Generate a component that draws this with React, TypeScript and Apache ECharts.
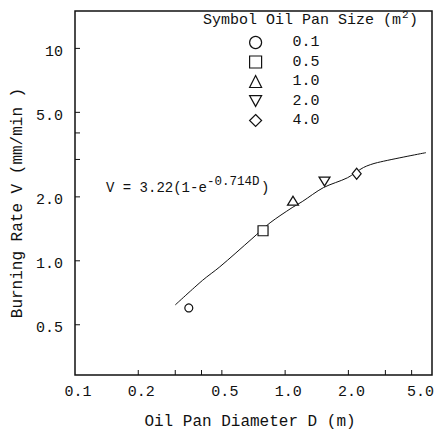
import React, { useEffect, useRef } from 'react';
import * as echarts from 'echarts';

// Oil pan sizes (m2) and measured points (diameter D in m, burning rate V in mm/min)
const panSizes = ['0.1', '0.5', '1.0', '2.0', '4.0'];
const panDiameters = [0.348, 0.785, 1.09, 1.54, 2.19];
const burningRates = [0.6, 1.385, 1.92, 2.36, 2.57];
const panSymbols = ['circle', 'rect', 'triangle', 'path://M0,0L10,0L5,9Z', 'diamond'];
const panSymbolSizes: (number | number[])[] = [8, 10, [11, 9], [11, 9], [9, 11]];

// Fitted curve
const curveD = [0.3, 0.405, 0.489, 0.695, 0.848, 1.08, 1.206, 1.52, 1.98, 2.36, 2.75, 4.68];
const curveV = [0.62, 0.81, 0.937, 1.27, 1.51, 1.78, 1.9, 2.21, 2.46, 2.75, 2.9, 3.23];

// Axes
const X_MIN = 0.1;
const X_MAX = 5;
const Y_MIN = 0.29;
const Y_MAX = 15;
const xTickValues = [0.2, 0.3, 0.4, 0.5, 1, 2, 3, 4];
const yTickValues = [0.5, 1, 2, 3, 4, 5, 10];
const xLabelValues = [0.1, 0.2, 0.5, 1, 2, 5];
const xLabels = ['0.1', '0.2', '0.5', '1.0', '2.0', '5.0'];
const yLabelValues = [0.5, 1, 2, 5, 10];
const yLabels = ['0.5', '1.0', '2.0', '5.0', '10'];

const FONT = "'Liberation Mono', 'DejaVu Sans Mono', monospace";
const INK = '#111';

export default function App() {
  const ref = useRef<HTMLDivElement>(null);

  useEffect(() => {
    if (!ref.current) return;
    const chart = echarts.init(ref.current, undefined, { renderer: 'svg' });

    const scatterSeries = panSizes.map((name, i) => ({
      name,
      type: 'scatter',
      z: 5,
      symbol: panSymbols[i],
      symbolSize: panSymbolSizes[i],
      itemStyle: { color: '#fff', borderColor: INK, borderWidth: 1.2, opacity: 1 },
      data: [[panDiameters[i], burningRates[i]]],
    }));

    const option: any = {
      animation: false,
      backgroundColor: '#fff',
      grid: {
        left: 75,
        right: 8,
        top: 11,
        bottom: 57,
        show: true,
        borderColor: INK,
        borderWidth: 1.5,
        backgroundColor: 'transparent',
      },
      xAxis: {
        type: 'log',
        logBase: 10,
        min: X_MIN,
        max: X_MAX,
        axisLine: { show: false },
        axisTick: { show: false },
        axisLabel: { show: false },
        splitLine: { show: false },
        minorTick: { show: false },
      },
      yAxis: {
        type: 'log',
        logBase: 10,
        min: Y_MIN,
        max: Y_MAX,
        axisLine: { show: false },
        axisTick: { show: false },
        axisLabel: { show: false },
        splitLine: { show: false },
        minorTick: { show: false },
      },
      legend: {
        orient: 'vertical',
        left: 249,
        top: 35,
        padding: 0,
        itemWidth: 12,
        itemHeight: 12,
        itemGap: 4.5,
        selectedMode: false,
        data: panSizes,
        itemStyle: { borderWidth: 1.2, borderColor: INK, color: '#fff' },
        formatter: '{a|{name}}',
        textStyle: {
          fontFamily: FONT,
          fontSize: 15,
          lineHeight: 12,
          color: INK,
          rich: { a: { fontFamily: FONT, fontSize: 15, lineHeight: 12, color: INK, padding: [0, 0, 0, 26] } },
        },
      },
      graphic: [
        {
          type: 'text',
          x: 18,
          y: 203,
          rotation: Math.PI / 2,
          style: { text: 'Burning Rate V (mm/min )', fontFamily: FONT, fontSize: 16, fill: INK, align: 'center', verticalAlign: 'middle' },
        },
        {
          type: 'text',
          x: 250,
          y: 422,
          style: { text: 'Oil Pan Diameter D (m)', fontFamily: FONT, fontSize: 16, fill: INK, align: 'center', verticalAlign: 'middle' },
        },
        {
          type: 'text',
          x: 203,
          y: 20,
          style: { text: 'Symbol Oil Pan Size (m', fontFamily: FONT, fontSize: 15, fill: INK, align: 'left', verticalAlign: 'middle' },
        },
        {
          type: 'text',
          x: 402,
          y: 15,
          style: { text: '2', fontFamily: FONT, fontSize: 11, fill: INK, align: 'left', verticalAlign: 'middle' },
        },
        {
          type: 'text',
          x: 409,
          y: 20,
          style: { text: ')', fontFamily: FONT, fontSize: 15, fill: INK, align: 'left', verticalAlign: 'middle' },
        },
        {
          type: 'text',
          x: 106,
          y: 188,
          style: { text: 'V = 3.22(1-e', fontFamily: FONT, fontSize: 14, fill: INK, align: 'left', verticalAlign: 'middle' },
        },
        {
          type: 'text',
          x: 207,
          y: 182,
          style: { text: '-0.714D', fontFamily: FONT, fontSize: 12.5, fill: INK, align: 'left', verticalAlign: 'middle' },
        },
        {
          type: 'text',
          x: 261,
          y: 188,
          style: { text: ')', fontFamily: FONT, fontSize: 14, fill: INK, align: 'left', verticalAlign: 'middle' },
        },
      ],
      series: [
        {
          name: 'fit',
          type: 'line',
          z: 2,
          smooth: 0.3,
          showSymbol: false,
          symbol: 'none',
          lineStyle: { color: INK, width: 1 },
          data: curveD.map((d, i) => [d, curveV[i]]),
        },
        ...scatterSeries,
        {
          name: 'xTicks',
          type: 'custom',
          z: 6,
          silent: true,
          data: xTickValues.map((v) => [v, Y_MIN]),
          renderItem: (params: any, api: any) => {
            const p = api.coord([api.value(0), Y_MIN]);
            return {
              type: 'line',
              shape: { x1: p[0], y1: p[1], x2: p[0], y2: p[1] - 5 },
              style: { stroke: INK, lineWidth: 1 },
            };
          },
        },
        {
          name: 'yTicks',
          type: 'custom',
          z: 6,
          silent: true,
          data: yTickValues.map((v) => [X_MIN, v]),
          renderItem: (params: any, api: any) => {
            const p = api.coord([X_MIN, api.value(1)]);
            return {
              type: 'line',
              shape: { x1: p[0], y1: p[1], x2: p[0] + 5, y2: p[1] },
              style: { stroke: INK, lineWidth: 1 },
            };
          },
        },
        {
          name: 'xLabels',
          type: 'custom',
          z: 6,
          silent: true,
          clip: false,
          data: xLabelValues.map((v) => [v, Y_MIN]),
          renderItem: (params: any, api: any) => {
            const p = api.coord([api.value(0), Y_MIN]);
            const last = params.dataIndex === xLabelValues.length - 1;
            return {
              type: 'text',
              x: last ? p[0] + 2 : p[0] + 3,
              y: p[1] + 17,
              style: {
                text: xLabels[params.dataIndex],
                fontFamily: FONT,
                fontSize: 15,
                fill: INK,
                align: last ? 'right' : 'center',
                verticalAlign: 'middle',
              },
            };
          },
        },
        {
          name: 'yLabels',
          type: 'custom',
          z: 6,
          silent: true,
          clip: false,
          data: yLabelValues.map((v) => [X_MIN, v]),
          renderItem: (params: any, api: any) => {
            const p = api.coord([X_MIN, api.value(1)]);
            return {
              type: 'text',
              x: p[0] - 12,
              y: p[1] + 4,
              style: {
                text: yLabels[params.dataIndex],
                fontFamily: FONT,
                fontSize: 15,
                fill: INK,
                align: 'right',
                verticalAlign: 'middle',
              },
            };
          },
        },
      ],
    };

    chart.setOption(option);
    return () => {
      chart.dispose();
    };
  }, []);

  return (
    <div
      ref={ref}
      style={{ position: 'absolute', left: 0, top: 0, width: 440, height: 432, background: '#fff' }}
    />
  );
}
